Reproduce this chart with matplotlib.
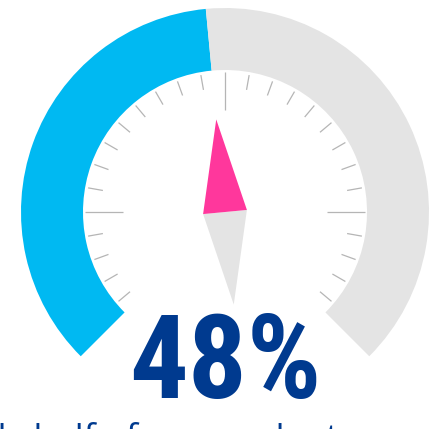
import numpy as np
import matplotlib
matplotlib.use('Agg')
import matplotlib.pyplot as plt
from matplotlib.patches import Wedge, Polygon
from matplotlib import font_manager

# gauge data
value = 48
vmin, vmax = 0, 100
start_deg, end_deg = 225, -45          # gauge sweeps clockwise
label = '48%'
caption = 'Nearly half of respondents agree'
tick_angles = np.arange(-40, 221, 10)
major_angles = [0, 90, 180]

blue = '#00B9F2'
grey = '#E4E4E4'
pink = '#FF379C'
navy = '#003A8F'
tick_col = '#B5B5B5'

W, H = 448, 429
cx, cy = 225, H - 212
r_out, r_in = 204, 142

fig = plt.figure(figsize=(W / 100, H / 100), dpi=100)
ax = fig.add_axes([0, 0, 1, 1])
ax.set_xlim(0, W)
ax.set_ylim(0, H)
ax.axis('off')

val_deg = start_deg - (value - vmin) / (vmax - vmin) * (start_deg - end_deg)

# arc: filled part and the rest
ax.add_patch(Wedge((cx, cy), r_out, val_deg, start_deg, width=r_out - r_in,
                   facecolor=blue, edgecolor='none'))
ax.add_patch(Wedge((cx, cy), r_out, end_deg, val_deg, width=r_out - r_in,
                   facecolor=grey, edgecolor='none'))

# dial ticks
for a in tick_angles:
    t = np.radians(a)
    r0 = 102 if a in major_angles else 124
    r1 = 140 if a in major_angles else 139
    ax.plot([cx + r0 * np.cos(t), cx + r1 * np.cos(t)],
            [cy + r0 * np.sin(t), cy + r1 * np.sin(t)],
            color=tick_col, lw=0.9, solid_capstyle='butt')

# needle (compass style)
t = np.radians(val_deg)
n_len, n_half = 93, 22
ux, uy = np.cos(t), np.sin(t)
px, py = -uy, ux
tip = (cx + n_len * ux, cy + n_len * uy)
tail = (cx - n_len * ux, cy - n_len * uy)
left = (cx + n_half * px, cy + n_half * py)
right = (cx - n_half * px, cy - n_half * py)
ax.add_patch(Polygon([left, tail, right], closed=True, facecolor=grey, edgecolor='none'))
ax.add_patch(Polygon([left, tip, right], closed=True, facecolor=pink, edgecolor='none'))


def pick(names):
    for n in names:
        try:
            font_manager.findfont(font_manager.FontProperties(family=n, weight='bold'),
                                  fallback_to_default=False)
            return n
        except Exception:
            pass
    return 'DejaVu Sans'


big_font = pick(['Liberation Sans Narrow', 'DejaVu Sans Condensed', 'Roboto Condensed', 'Liberation Sans'])

ax.text(cx, H - 354, label, ha='center', va='center_baseline', fontsize=84,
        fontweight='bold', color=navy, family=big_font)

# caption, cut off by the bottom edge as in the original
ax.text(-83, H - 422, caption, ha='left', va='top', fontsize=25.5,
        color=navy, family='Open Sans')

fig.savefig('out.png', dpi=100)
